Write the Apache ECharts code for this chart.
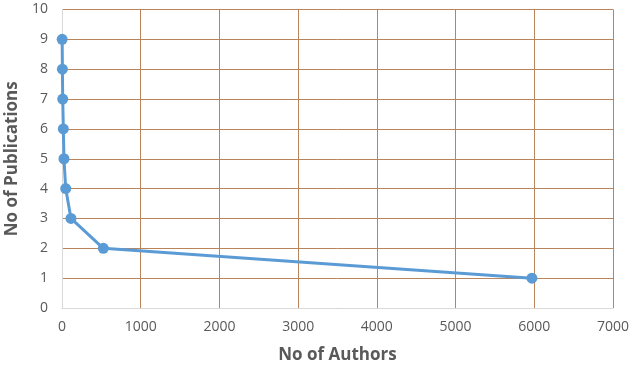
<!DOCTYPE html>
<html>
<head>
<meta charset="utf-8">
<script src="https://cdn.jsdelivr.net/npm/echarts@6/dist/echarts.min.js"></script>
<style>
  html, body { margin: 0; padding: 0; background: #fff; }
  #chart { width: 633px; height: 369px; }
</style>
</head>
<body>
<div id="chart"></div>
<script>
// No of Authors vs No of Publications
const authors = [5970, 525, 114, 47, 25, 17, 9, 5, 2];
const publications = [1, 2, 3, 4, 5, 6, 7, 8, 9];

const chart = echarts.init(document.getElementById("chart"));

const labelFont = "Open Sans, Liberation Sans, sans-serif";
const gridColor = "#b9845c";

chart.setOption({
  animation: false,
  grid: { left: 62, right: 20, top: 9.5, bottom: 61, outerBoundsMode: "none" },
  xAxis: {
    type: "value",
    min: 0,
    max: 7000,
    interval: 1000,
    name: "No of Authors",
    nameLocation: "middle",
    nameGap: 39,
    nameTextStyle: { color: "#595959", fontSize: 17, fontWeight: "bold", fontFamily: labelFont },
    axisLine: { show: true, lineStyle: { color: "#d9d9d9", width: 1 } },
    axisTick: { show: false },
    axisLabel: { color: "#595959", fontSize: 14, fontFamily: labelFont, margin: 12, formatter: (v) => String(v) },
    splitLine: { show: true, lineStyle: { color: gridColor, width: 1 } },
  },
  yAxis: {
    type: "value",
    min: 0,
    max: 10,
    interval: 1,
    name: "No of Publications",
    nameLocation: "middle",
    nameGap: 40,
    nameTextStyle: { color: "#595959", fontSize: 17, fontWeight: "bold", fontFamily: labelFont },
    axisLine: { show: true, lineStyle: { color: "#d9d9d9", width: 1 } },
    axisTick: { show: false },
    axisLabel: { color: "#595959", fontSize: 14, fontFamily: labelFont, margin: 14 },
    splitLine: { show: true, lineStyle: { color: gridColor, width: 1 } },
  },
  series: [
    {
      type: "line",
      data: authors.map((a, i) => [a, publications[i]]),
      symbol: "circle",
      symbolSize: 11,
      lineStyle: { color: "#5b9bd5", width: 3 },
      itemStyle: { color: "#5b9bd5" },
    },
  ],
});
</script>
</body>
</html>
